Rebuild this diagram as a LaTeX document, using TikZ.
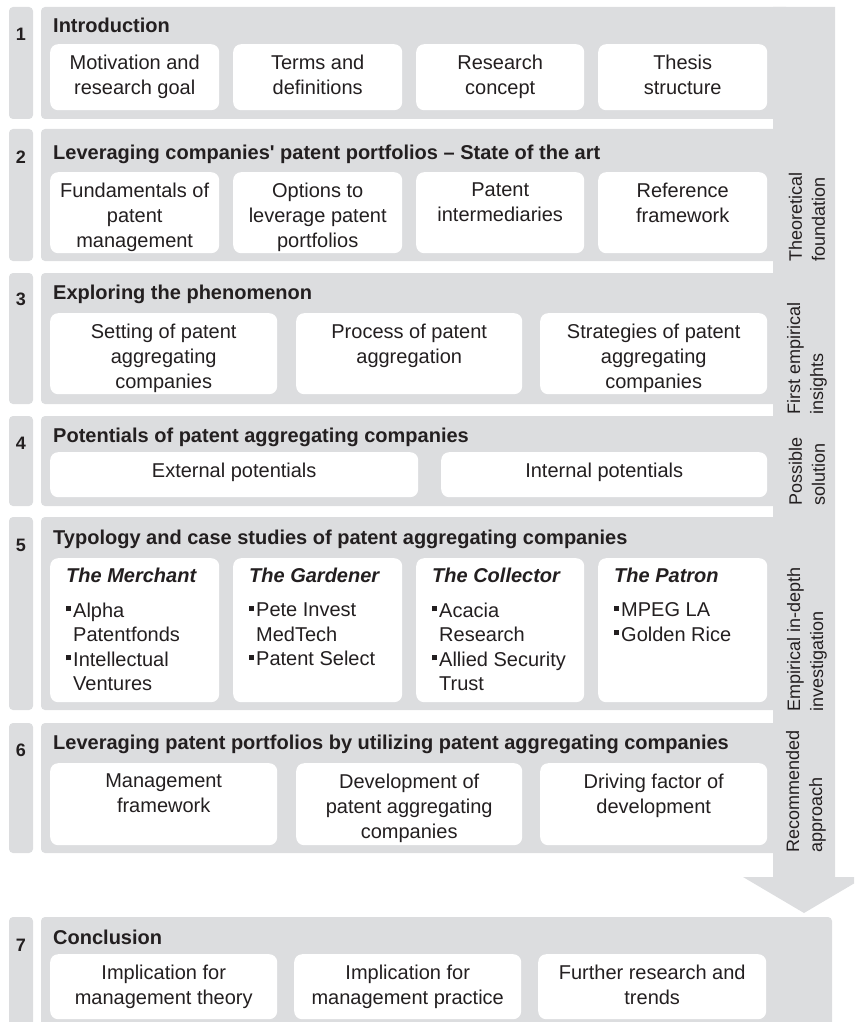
\documentclass[tikz,border=0pt]{standalone}
\usepackage{fontspec}
\setmainfont{Liberation Sans}
\definecolor{panelgray}{RGB}{220,221,223}
\definecolor{ink}{RGB}{35,31,32}

% white rounded card spanning (x1,y1)-(x2,y2), y measured downwards
\newcommand\mkbox[5]{%
  \node[card, minimum width={(#4-#2)*1pt}, minimum height={(#5-#3)*1pt}] (#1) at (#2,#3) {};%
}
% card with centred text hanging from its top edge
\newcommand\mkcard[6]{%
  \mkbox{#1}{#2}{#3}{#4}{#5}%
  \node[cardtext] (#1-t) at ([yshift=-11pt]#1.north) {#6};%
}
\newcommand\mybul{\makebox[7pt][l]{\rule[6pt]{5pt}{5pt}}}
\newcommand\myind{\hspace*{7pt}}

\begin{document}
\begin{tikzpicture}[x=1pt,y=-1pt,
  section/.style={fill=panelgray, rounded corners=4pt},
  card/.style={fill=white, draw=none, rounded corners=8pt, inner sep=0pt, anchor=north west},
  cardtext/.style={font=\fontsize{20}{25}\selectfont, align=center, inner sep=0pt, anchor=north, text=ink},
  cardtitle/.style={font=\bfseries\itshape\fontsize{20}{24}\selectfont, inner sep=0pt, anchor=base west, text=ink},
  cardlist/.style={font=\fontsize{20}{24.5}\selectfont, align=left, inner sep=0pt, anchor=north west, text=ink},
  heading/.style={font=\bfseries\fontsize{20}{24}\selectfont, inner sep=0pt, anchor=base west, text=ink},
  number/.style={font=\bfseries\fontsize{18}{22}\selectfont, inner sep=0pt, anchor=base, text=ink},
  sidelabel/.style={font=\fontsize{18}{23}\selectfont, align=left, rotate=90, inner sep=0pt, anchor=west, text=ink}]

\clip (0,0) rectangle (854,1022);

% chapter panels and their number strips
\foreach \ya/\yb in {7/119, 129/261, 273/404, 416/506, 517/710, 723/853}{
  \fill[section] (41,\ya) rectangle (790,\yb);
  \fill[section] (9,\ya) rectangle (33,\yb);
}
\fill[section] (41,917) rectangle (832,1040);
\fill[section] (9,917) rectangle (33,1040);

% downward arrow along the right edge
\fill[panelgray] (773,7) -- (835,7) -- (835,877) -- (865,877) -- (804,913)
  -- (743,877) -- (773,877) -- cycle;

% chapter numbers
\node[number] (n1) at (21,41) {1};
\node[number] (n2) at (21,163) {2};
\node[number] (n3) at (21,305) {3};
\node[number] (n4) at (21,449) {4};
\node[number] (n5) at (21,551) {5};
\node[number] (n6) at (21,756) {6};
\node[number] (n7) at (21,951) {7};

% chapter titles
\node[heading] (h1) at (53,33) {Introduction};
\node[heading] (h2) at (53,159) {Leveraging companies\textquotesingle{} patent portfolios -- State of the art};
\node[heading] (h3) at (53,299) {Exploring the phenomenon};
\node[heading] (h4) at (53,442) {Potentials of patent aggregating companies};
\node[heading] (h5) at (53,544) {Typology and case studies of patent aggregating companies};
\node[heading] (h6) at (53,749) {Leveraging patent portfolios by utilizing patent aggregating companies};
\node[heading] (h7) at (53,944) {Conclusion};

% chapter 1
\mkcard{c11}{50}{44}{219}{110}{Motivation and\\research goal}
\mkcard{c12}{233}{44}{402}{110}{Terms and\\definitions}
\mkcard{c13}{416}{44}{584}{110}{Research\\concept}
\mkcard{c14}{598}{44}{767}{110}{Thesis\\structure}

% chapter 2
\mkcard{c21}{50}{172}{219}{253}{Fundamentals of\\patent\\management}
\mkcard{c22}{233}{172}{402}{253}{Options to\\leverage patent\\portfolios}
\mkcard{c23}{416}{172}{584}{253}{Patent\\intermediaries}
\mkcard{c24}{598}{172}{767}{253}{Reference\\framework}

% chapter 3
\mkcard{c31}{50}{313}{277}{394}{Setting of patent\\aggregating\\companies}
\mkcard{c32}{296}{313}{522}{394}{Process of patent\\aggregation}
\mkcard{c33}{540}{313}{767}{394}{Strategies of patent\\aggregating\\companies}

% chapter 4
\mkcard{c41}{50}{452}{418}{497}{External potentials}
\mkcard{c42}{441}{452}{767}{497}{Internal potentials}

% chapter 5: four types with their cases
\mkbox{c51}{50}{558}{219}{702}
\mkbox{c52}{233}{558}{402}{702}
\mkbox{c53}{416}{558}{584}{702}
\mkbox{c54}{598}{558}{767}{702}
\node[cardtitle] (c51-h) at (66,582) {The Merchant};
\node[cardtitle] (c52-h) at (249,582) {The Gardener};
\node[cardtitle] (c53-h) at (432,582) {The Collector};
\node[cardtitle] (c54-h) at (614,582) {The Patron};
\node[cardlist] (c51-l) at (66,602.7) {\mybul Alpha\\\myind Patentfonds\\\mybul Intellectual\\\myind Ventures};
\node[cardlist] (c52-l) at (249,602.7) {\mybul Pete Invest\\\myind MedTech\\\mybul Patent Select};
\node[cardlist] (c53-l) at (432,602.7) {\mybul Acacia\\\myind Research\\\mybul Allied Security\\\myind Trust};
\node[cardlist] (c54-l) at (614,602.7) {\mybul MPEG LA\\\mybul Golden Rice};

% chapter 6
\mkcard{c61}{50}{763}{277}{845}{Management\\framework}
\mkcard{c62}{296}{763}{522}{845}{Development of\\patent aggregating\\companies}
\mkcard{c63}{540}{763}{767}{845}{Driving factor of\\development}

% chapter 7
\mkcard{c71}{50}{954}{277}{1019}{Implication for\\management theory}
\mkcard{c72}{294}{954}{521}{1019}{Implication for\\management practice}
\mkcard{c73}{538}{954}{766}{1019}{Further research and\\trends}

% phase labels along the arrow
\node[sidelabel] (p1) at (807,262) {Theoretical\\foundation};
\node[sidelabel] (p2) at (807,415) {First empirical\\insights};
\node[sidelabel] (p3) at (807,506) {Possible\\solution};
\node[sidelabel] (p4) at (807,712) {Empirical in-depth\\investigation};
\node[sidelabel] (p5) at (806,853) {Recommended\\approach};
\end{tikzpicture}
\end{document}
